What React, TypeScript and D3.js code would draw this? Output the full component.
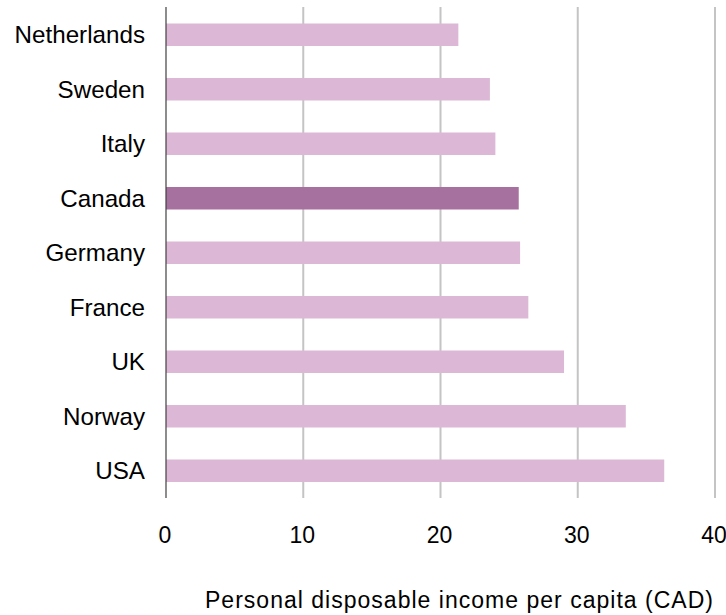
import React from "react";
import * as d3 from "d3";

const countries = ["Netherlands", "Sweden", "Italy", "Canada", "Germany", "France", "UK", "Norway", "USA"];
const values = [21.3, 23.6, 24.0, 25.7, 25.8, 26.4, 29.0, 33.5, 36.3];
const highlight = "Canada";
const xTicks = [0, 10, 20, 30, 40];
const xTitle = "Personal disposable income per capita (CAD)";

const W = 726;
const H = 615;
const FONT = "'Liberation Sans', Arial, sans-serif";

export default function App() {
  const x = d3.scaleLinear().domain([0, 40]).range([166, 715]);
  const y = d3
    .scaleBand<string>()
    .domain(countries)
    .range([7.5, 498])
    .paddingInner(0.587)
    .paddingOuter(0.2935);

  return (
    <svg
      width={W}
      height={H}
      style={{ position: "absolute", left: 0, top: 0, background: "#fff" }}
      fontFamily={FONT}
    >
      {xTicks.slice(1).map((t) => (
        <line key={"g" + t} x1={x(t)} x2={x(t)} y1={7} y2={498} stroke="#c4c4c4" strokeWidth={2} />
      ))}
      {countries.map((c, i) => (
        <rect
          key={c}
          x={x(0)}
          y={y(c)}
          width={x(values[i]) - x(0)}
          height={y.bandwidth()}
          fill={c === highlight ? "#a6719f" : "#dcb8d6"}
        />
      ))}
      <line x1={x(0)} x2={x(0)} y1={7} y2={498} stroke="#404040" strokeWidth={1.2} />
      {countries.map((c) => (
        <text
          key={"l" + c}
          x={145}
          y={(y(c) as number) + y.bandwidth() / 2}
          textAnchor="end"
          dominantBaseline="central"
          fontSize={24.2}
          fill="#000"
        >
          {c}
        </text>
      ))}
      {xTicks.map((t) => (
        <text key={"t" + t} x={x(t) - 1} y={535} textAnchor="middle" dominantBaseline="central" fontSize={23} fill="#000">
          {t}
        </text>
      ))}
      <text x={459} y={600} textAnchor="middle" dominantBaseline="central" fontSize={23} fill="#000" textLength={508} lengthAdjust="spacing">
        {xTitle}
      </text>
    </svg>
  );
}
